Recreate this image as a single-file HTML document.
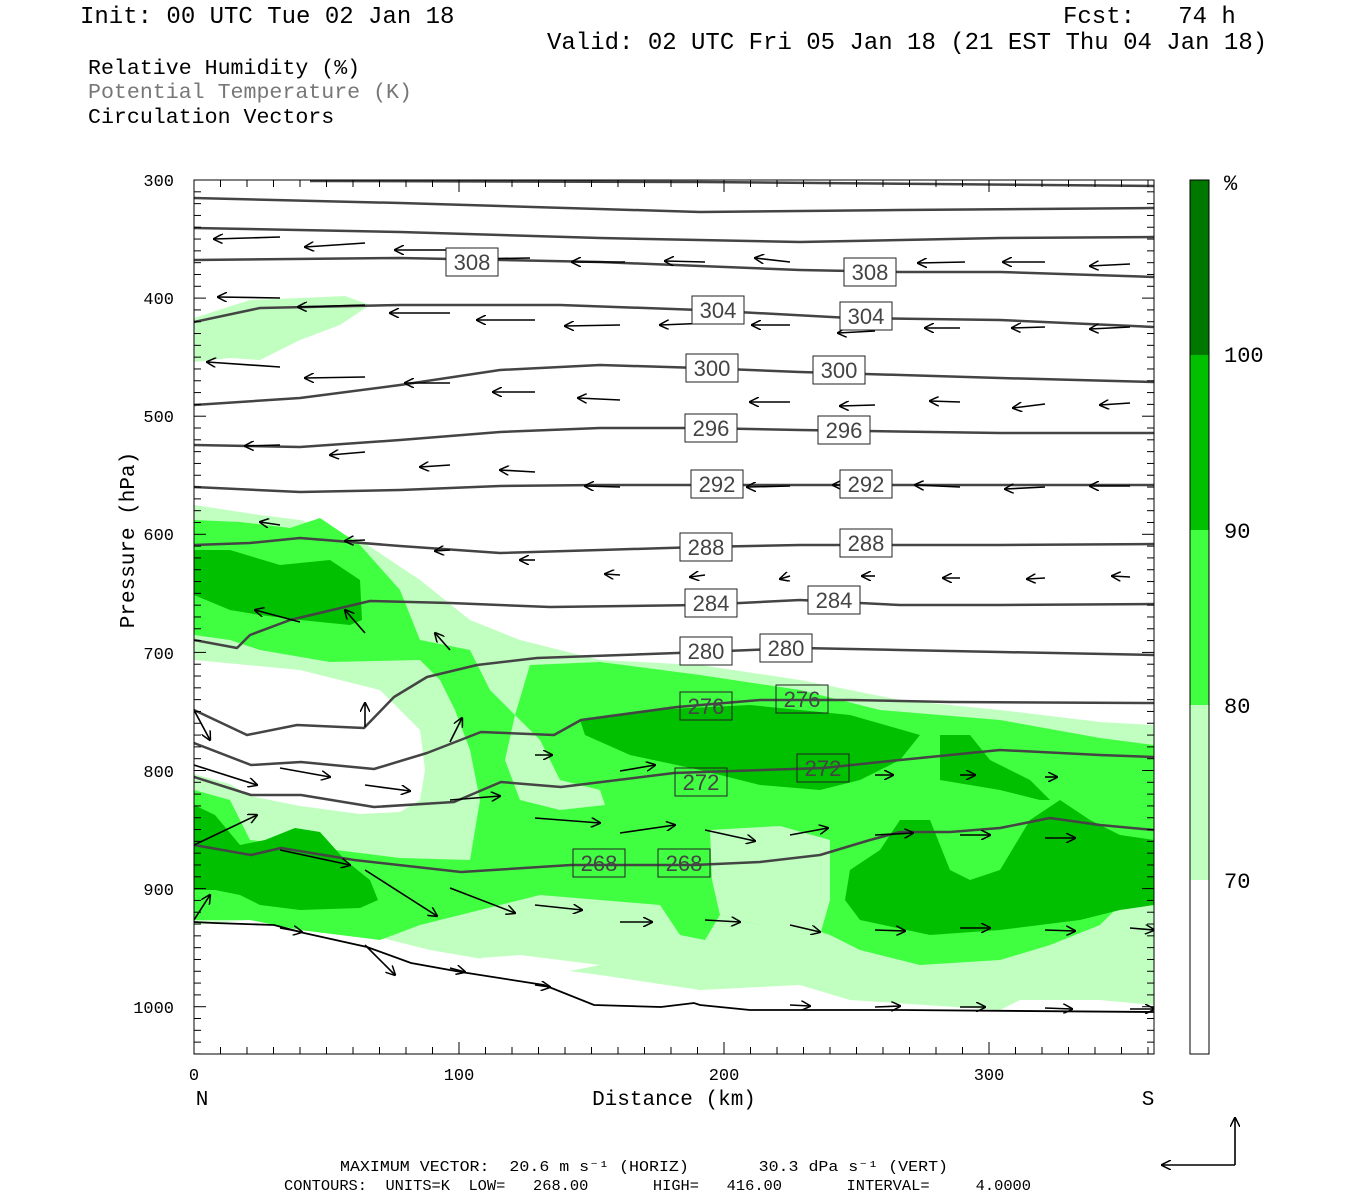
<!DOCTYPE html>
<html><head><meta charset="utf-8"><style>
body{margin:0;background:#fff;width:1350px;height:1200px;overflow:hidden;position:relative}
.t{position:absolute;font-family:"Liberation Mono",monospace;white-space:pre;line-height:1}
</style></head><body>
<div class="t" style="left:80px;top:6px;font-size:24px">Init: 00 UTC Tue 02 Jan 18</div>
<div class="t" style="left:1063px;top:6px;font-size:24px">Fcst:   74 h</div>
<div class="t" style="left:547px;top:32px;font-size:24px">Valid: 02 UTC Fri 05 Jan 18 (21 EST Thu 04 Jan 18)</div>
<div class="t" style="left:88px;top:59px;font-size:21.6px">Relative Humidity (%)</div>
<div class="t" style="left:88px;top:83px;font-size:21.6px;color:#777">Potential Temperature (K)</div>
<div class="t" style="left:88px;top:108px;font-size:21.6px">Circulation Vectors</div>
<svg id="s" width="1350" height="1200" style="position:absolute;left:0;top:0" xmlns="http://www.w3.org/2000/svg">
<defs><marker id="ah" markerWidth="10" markerHeight="10" refX="9" refY="5" orient="auto" markerUnits="userSpaceOnUse"><path d="M0,0 L10,5 L0,10" fill="none" stroke="#000" stroke-width="1.5"/></marker>
<clipPath id="cp"><rect x="194" y="180" width="960" height="874"/></clipPath></defs>
<g clip-path="url(#cp)">
<polygon fill="#c0ffc0" points="194,318 250,300 300,298 345,296 370,305 340,325 300,340 260,360 230,358 194,362"/>
<polygon fill="#c0ffc0" points="194,505 260,515 300,520 360,540 420,580 470,620 520,640 600,660 700,665 800,680 900,700 1000,710 1100,722 1154,725 1154,1005 1100,1000 1020,1000 1000,1010 850,1000 800,985 700,990 600,975 500,962 430,950 370,935 300,925 250,920 194,925"/>
<polygon fill="#fff" points="480,958 520,955 560,960 600,965 560,973 520,972"/>
<polygon fill="#40ff40" points="194,520 240,522 290,528 320,518 360,545 400,590 420,640 470,650 490,690 515,715 530,665 600,662 700,675 800,690 880,710 1000,720 1100,738 1154,745 1154,905 1120,905 1100,925 1050,945 1000,960 920,965 860,950 830,935 800,925 760,925 720,915 705,940 680,935 660,905 600,900 540,895 500,905 420,925 380,940 300,930 250,920 194,920 194,790 230,800 250,840 320,848 400,858 470,860 480,800 470,750 455,710 440,680 420,660 330,662 260,650 230,640 194,635"/>
<polygon fill="#c0ffc0" points="515,715 540,740 560,780 600,790 605,805 560,810 520,800 505,760"/>
<polygon fill="#c0ffc0" points="710,830 780,826 830,840 830,900 820,935 760,925 720,915 712,880"/>
<polygon fill="#c0ffc0" points="194,640 260,652 330,664 420,662 440,690 455,712 470,750 478,800 470,858 400,856 320,846 250,838 230,798 194,788"/>
<polygon fill="#fff" points="194,660 300,670 380,690 420,730 425,770 420,800 400,812 360,814 300,806 250,796 230,784 194,774"/>
<polygon fill="#00c000" points="194,550 230,550 280,565 330,560 360,580 362,620 350,625 300,620 260,615 230,610 194,595"/>
<polygon fill="#00c000" points="580,720 650,710 750,705 850,715 920,735 900,760 860,780 820,790 760,785 700,770 630,755 585,735"/>
<polygon fill="#00c000" points="940,735 970,735 990,760 1030,780 1050,800 1040,800 1000,790 940,780"/>
<polygon fill="#00c000" points="850,870 880,850 900,820 930,820 950,870 970,880 1000,870 1030,820 1060,800 1090,820 1120,835 1154,840 1154,905 1120,910 1080,920 1000,930 930,935 860,920 845,900"/>
<polygon fill="#00c000" points="194,805 215,815 240,845 265,840 295,828 320,832 345,860 370,880 378,900 360,908 300,910 260,905 240,895 215,890 194,890"/>
<g fill="none" stroke="#444" stroke-width="2.5" stroke-linejoin="round">
<polyline points="310,181 700,182 1154,186"/>
<polyline points="194,198 400,203 700,212 900,210 1154,208"/>
<polyline points="194,228 400,232 600,238 800,242 1000,238 1154,237"/>
<polyline points="194,260 400,258 600,262 800,270 900,272 1000,272 1154,277"/>
<polyline points="194,322 260,308 400,305 560,305 700,310 850,318 1000,320 1154,327"/>
<polyline points="194,405 300,398 400,385 500,370 600,365 700,368 800,372 1000,378 1154,382"/>
<polyline points="194,445 300,447 400,440 500,432 600,428 700,428 800,430 1000,433 1154,433"/>
<polyline points="194,487 300,492 400,490 500,486 600,485 700,485 900,485 1154,485"/>
<polyline points="194,545 250,543 300,538 400,546 500,553 600,550 700,547 800,545 900,545 1000,545 1154,544"/>
<polyline points="194,640 237,648 250,635 290,620 370,601 450,603 550,607 700,605 800,600 900,605 1000,605 1154,604"/>
<polyline points="194,710 247,735 297,725 364,728 394,697 427,677 477,665 537,658 677,653 800,648 900,650 1000,652 1154,655"/>
<polyline points="194,743 251,765 301,762 374,769 427,753 481,732 554,735 581,720 677,707 760,700 850,700 950,702 1154,703"/>
<polyline points="194,777 251,795 301,795 374,807 454,802 501,782 561,787 674,773 823,768 900,760 1000,750 1100,755 1154,757"/>
<polyline points="194,845 251,855 281,848 354,860 461,872 571,865 694,865 760,862 820,855 870,840 900,832 950,832 1000,828 1050,818 1100,825 1154,830"/>
</g>
<polyline fill="none" stroke="#000" stroke-width="1.8" points="194,922 214,923 274,925 304,933 367,947 411,963 461,972 544,985 594,1005 661,1007 694,1003 700,1005 750,1010 900,1010 1154,1012"/>
<g id="arr" stroke="#000" stroke-width="1.6" marker-end="url(#ah)"></g>
<g id="lab" font-family="Liberation Sans,sans-serif" font-size="22" fill="#444" text-anchor="middle"></g>
</g>
<rect x="194" y="180" width="960" height="874" fill="none" stroke="#000" stroke-width="1"/>
<g id="tk" stroke="#000" stroke-width="1"></g>
<rect x="1190" y="180" width="19" height="175" fill="#007800"/>
<rect x="1190" y="355" width="19" height="175" fill="#00c000"/>
<rect x="1190" y="530" width="19" height="175" fill="#40ff40"/>
<rect x="1190" y="705" width="19" height="175" fill="#c0ffc0"/>
<rect x="1190" y="180" width="19" height="874" fill="none" stroke="#000"/>
<g font-family="Liberation Mono,monospace" font-size="22">
<text x="1224" y="190">%</text><text x="1224" y="362">100</text><text x="1224" y="538">90</text><text x="1224" y="713">80</text><text x="1224" y="888">70</text>
</g>
<g font-family="Liberation Mono,monospace" font-size="17" text-anchor="end">
<text x="174" y="186">300</text><text x="174" y="304">400</text><text x="174" y="422">500</text><text x="174" y="540">600</text><text x="174" y="659">700</text><text x="174" y="777">800</text><text x="174" y="895">900</text><text x="174" y="1013">1000</text>
</g>
<g font-family="Liberation Mono,monospace" font-size="17" text-anchor="middle">
<text x="194" y="1080">0</text><text x="459" y="1080">100</text><text x="724" y="1080">200</text><text x="989" y="1080">300</text>
</g>
<g font-family="Liberation Mono,monospace" font-size="21">
<text x="202" y="1105" text-anchor="middle">N</text><text x="1148" y="1105" text-anchor="middle">S</text>
<text x="674" y="1105" text-anchor="middle">Distance (km)</text>
<text transform="translate(134,540) rotate(-90)" text-anchor="middle">Pressure (hPa)</text>
</g>
<g stroke="#000" stroke-width="1.6" marker-end="url(#ah)"><line x1="1235" y1="1165" x2="1162" y2="1165"/><line x1="1235" y1="1165" x2="1235" y2="1118"/></g>
<g font-family="Liberation Mono,monospace" font-size="14.5">
<text x="340" y="1171" xml:space="preserve" textLength="608" lengthAdjust="spacingAndGlyphs">MAXIMUM VECTOR:  20.6 m s⁻¹ (HORIZ)       30.3 dPa s⁻¹ (VERT)</text>
<text x="284" y="1190" xml:space="preserve" textLength="747" lengthAdjust="spacingAndGlyphs">CONTOURS:  UNITS=K  LOW=   268.00       HIGH=   416.00       INTERVAL=     4.0000</text>
</g>
</svg>
<script>
var NS="http://www.w3.org/2000/svg";
function el(p,n,a){var e=document.createElementNS(NS,n);for(var k in a)e.setAttribute(k,a[k]);p.appendChild(e);return e;}
var A=[[280,237,214,239],[365,243,305,247],[455,250,395,250],[530,258,470,259],[625,262,572,262],[705,262,665,261],[790,262,755,258],[965,262,918,263],[1045,262,1003,262],[1130,264,1090,266],
[280,298,218,297],[365,305,298,307],[450,313,390,313],[535,320,477,320],[620,325,565,326],[710,323,660,325],[790,325,752,325],[875,331,838,333],[960,328,925,328],[1045,327,1012,328],[1130,327,1090,329],
[280,367,207,362],[365,377,305,378],[450,383,405,383],[535,392,493,392],[620,400,578,398],[790,402,750,402],[875,405,840,406],[960,402,930,401],[1045,404,1013,408],[1130,403,1100,405],
[280,445,245,446],[365,452,330,455],[450,465,420,467],[535,472,500,470],[620,487,585,486],[960,487,915,485],[1045,487,1005,489],[1130,486,1090,486],[790,486,747,487],[875,485,833,485],
[280,525,260,522],[365,540,345,541],[450,550,435,551],[535,560,520,560],[620,575,605,574],[705,575,690,577],[790,576,780,579],[875,576,862,576],[960,578,943,578],[1045,578,1027,579],[1130,577,1112,576],
[365,633,345,610],[300,622,255,610],[450,650,435,633],[450,742,462,718],[365,727,365,703],
[194,710,210,740],[194,765,257,785],[280,768,330,777],[365,785,410,791],[450,800,500,796],[535,818,600,823],[620,833,675,825],[705,830,755,841],[790,835,828,828],[194,845,257,815],[280,850,350,865],[365,870,437,916],[450,888,515,913],[535,905,582,910],[620,922,652,922],[705,920,740,922],[790,925,820,932],[875,930,905,931],[960,928,990,928],[1045,930,1075,931],[1130,928,1154,930],[194,920,210,895],[280,928,302,932],[365,945,395,975],[450,968,465,972],[535,985,550,987],[790,1005,810,1006],[875,1007,900,1006],[960,1007,985,1007],[1045,1008,1072,1009],[1130,1009,1154,1009],[620,771,655,765],[535,755,552,755],[875,775,893,775],[960,775,975,775],[1045,777,1057,777],[960,835,990,835],[1045,838,1075,838],[875,835,913,833]];
var g=document.getElementById("arr");
A.forEach(function(a){el(g,"line",{x1:a[0],y1:a[1],x2:a[2],y2:a[3]});});
var L=[["308",472,262,0],["308",870,272,0],["304",718,310,0],["304",866,316,0],["300",712,368,0],["300",839,370,0],["296",711,428,0],["296",844,430,0],["292",717,484,0],["292",866,484,0],["288",706,547,0],["288",866,543,0],["284",711,603,0],["284",834,600,0],["280",706,651,0],["280",786,648,0],["276",706,706,1],["276",802,699,1],["272",701,782,1],["272",823,768,1],["268",599,863,1],["268",684,863,1]];
var lg=document.getElementById("lab");
L.forEach(function(l){el(lg,"rect",{x:l[1]-26,y:l[2]-14,width:52,height:28,fill:l[3]?"none":"#fff",stroke:"#222","stroke-width":1});var t=el(lg,"text",{x:l[1],y:l[2]+8});t.textContent=l[0];});
var tk=document.getElementById("tk");
for(var p=300;p<=1040;p+=10){var y=180+(p-300)*1.181;var len=(p%100==0)?12:7;el(tk,"line",{x1:194,y1:y,x2:194+len,y2:y});el(tk,"line",{x1:1154,y1:y,x2:1154-len,y2:y});}
for(var d=0;d<=362;d+=10){var x=194+d*2.65;var len=(d%100==0)?12:7;el(tk,"line",{x1:x,y1:1054,x2:x,y2:1054-len});el(tk,"line",{x1:x,y1:180,x2:x,y2:180+len});}
</script>
</body></html>
